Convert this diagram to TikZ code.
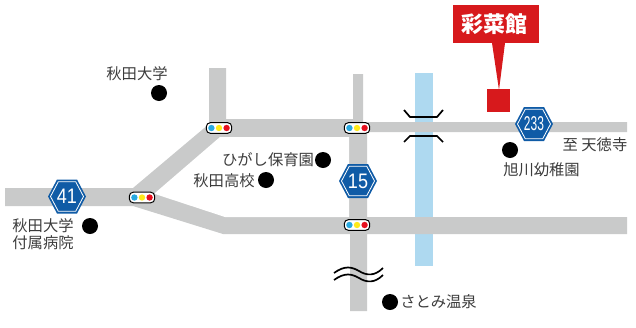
\documentclass[tikz,border=0pt]{standalone}
\usepackage{graphicx}
\usepackage{fontspec}
\setmainfont{Liberation Sans}
\newfontfamily\cjk{Noto Sans CJK JP}
\definecolor{roadgrey}{HTML}{C9CACA}
\definecolor{riverblue}{HTML}{AED9F0}
\definecolor{brandred}{HTML}{D7191C}
\definecolor{shieldblue}{HTML}{0F5BA6}
\definecolor{labelgrey}{HTML}{3C3C3C}
\definecolor{sigblue}{HTML}{29A9E0}
\definecolor{sigyellow}{HTML}{FFE91A}
\definecolor{sigred}{HTML}{E60F1E}
\newcommand{\shield}[3]{%
  \begin{scope}[shift={(#1,#2)}]
    \fill[shieldblue] (-19,0)--(-10,-17)--(10,-17)--(19,0)--(10,17)--(-10,17)--cycle;
    \draw[white,line width=0.8pt] (-16.5,0)--(-8.7,-14.8)--(8.7,-14.8)--(16.5,0)--(8.7,14.8)--(-8.7,14.8)--cycle;
    \node[shieldtext] at (0,0) {#3};
  \end{scope}}
\newcommand{\signal}[2]{%
  \begin{scope}[shift={(#1,#2)}]
    \draw[black,fill=white,line width=1pt,rounded corners=4pt] (-12.7,-5.3) rectangle (12.7,5.3);
    \fill[sigblue] (-7.6,0) circle (3.2);
    \fill[sigyellow] (0,0) circle (3.2);
    \fill[sigred] (7.6,0) circle (3.2);
  \end{scope}}
\tikzset{
  x=1pt,y=-1pt,
  label text/.style={font=\cjk\fontsize{15.3}{17}\selectfont,text=labelgrey,inner sep=0pt},
  shieldtext/.style={font=\fontsize{21}{23}\selectfont,text=white,inner sep=0pt},
  road/.style={fill=roadgrey},
  spot/.style={circle,fill=black,minimum size=16pt,inner sep=0pt},
  mark line/.style={black,line width=1.7pt},
}
\begin{document}
\begin{tikzpicture}
\useasboundingbox (0,0) rectangle (636,327);
% river
\fill[riverblue] (415,73) rectangle (433,266);
% roads
\fill[road] (5,188) -- (133,188) -- (209,124) -- (209,68) -- (226,68) -- (226,119) -- (353,119) -- (353,74) -- (363,74) -- (363,122) -- (627,122) -- (627,132) -- (367,132) -- (367,217) -- (627,217) -- (627,234) -- (367,234) -- (367,311) -- (350,311) -- (350,234) -- (223,234) -- (133,206) -- (5,206) -- cycle;
\fill[white] (155,193) -- (220,137) -- (349,137) -- (349,217) -- (225,217) -- (155,194) -- cycle;
% bridge
\draw[mark line] (404,110) -- (410,117) -- (437,117) -- (443,110);
\draw[mark line] (404,142) -- (410,136) -- (437,136) -- (443,142);
% wave
\draw[mark line] (334,273) .. controls (345,265) and (352,267) .. (359,271) .. controls (367,276) and (375,276) .. (383,268);
\draw[mark line] (334,280) .. controls (345,272) and (352,274) .. (359,278) .. controls (367,283) and (375,283) .. (383,275);
% signals
\signal{142}{197.5}
\signal{219}{128}
\signal{357}{128}
\signal{357}{225}
% shields
\shield{67}{196.5}{\scalebox{0.86}[1]{41}}
\shield{358}{181}{\scalebox{0.86}[1]{15}}
\shield{534}{124}{\scalebox{0.6}[1]{\fontsize{20}{22}\selectfont 233}}
% brand marker
\fill[brandred] (453,5) rectangle (539,43);
\fill[brandred] (492,43) -- (505,43) -- (499,90) -- cycle;
\fill[brandred] (487,89) rectangle (510,112);
\node[font=\cjk\bfseries\fontsize{22}{24}\selectfont,text=white,inner sep=0pt] (brand) at (494,24) {彩菜館};
% spots
\node[spot] (s1) at (159,93) {};
\node[spot] (s2) at (90,226) {};
\node[spot] (s3) at (266,180) {};
\node[spot] (s4) at (323,160) {};
\node[spot] (s5) at (510,150) {};
\node[spot] (s6) at (390,302) {};
% labels
\node[label text] (l1) at (137,73.5) {秋田大学};
\node[label text] (l2) at (43,226) {秋田大学};
\node[label text] (l3) at (43,243) {付属病院};
\node[label text] (l4) at (268,160) {ひがし保育園};
\node[label text] (l5) at (224,181) {秋田高校};
\node[label text] (l6) at (595,145) {至 天徳寺};
\node[label text] (l7) at (541.5,170) {旭川幼稚園};
\node[label text] (l8) at (438.5,302) {さとみ温泉};
\end{tikzpicture}
\end{document}
